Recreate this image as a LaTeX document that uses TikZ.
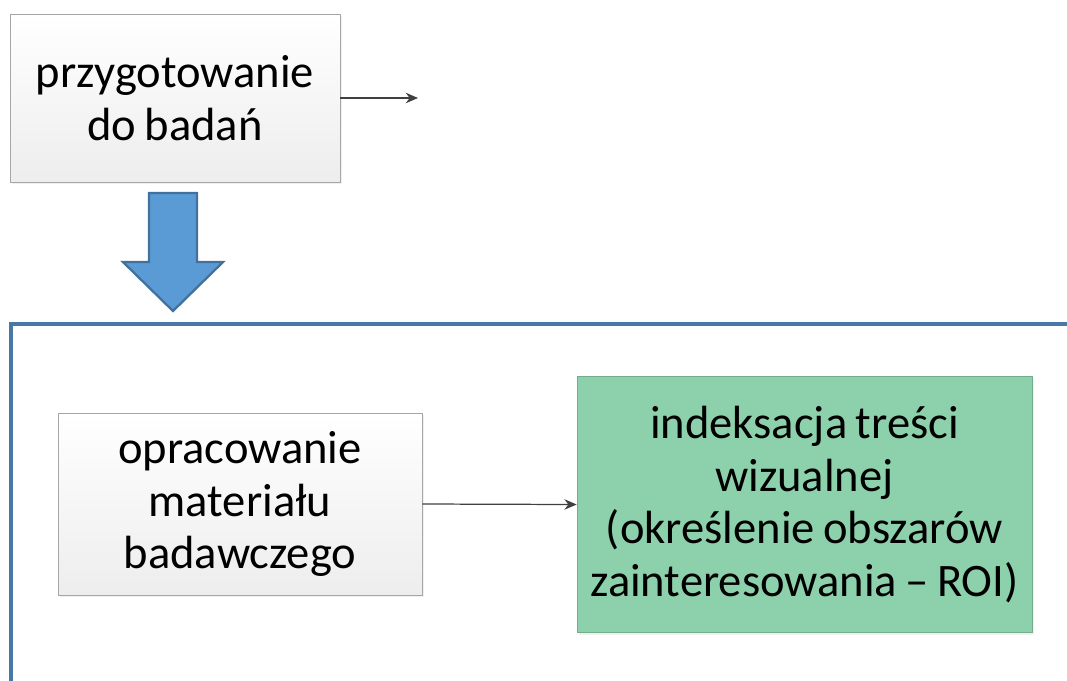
\documentclass[tikz,border=0pt]{standalone}
\usepackage{fontspec}
\setmainfont[WordSpace=0.8]{Carlito}
\usetikzlibrary{arrows.meta,shadows}
\definecolor{boxline}{HTML}{A6A6A6}
\definecolor{arrowline}{HTML}{404040}
\definecolor{bluefill}{HTML}{5B9BD5}
\definecolor{blueline}{HTML}{41719C}
\definecolor{frameline}{HTML}{4A78A6}
\definecolor{greenfill}{HTML}{8DD1AC}
\definecolor{greenline}{HTML}{72AE8E}
\tikzset{
  grey box/.style={draw=boxline,top color=white,bottom color=black!7,
    drop shadow={opacity=0.12,shadow xshift=1.2pt,shadow yshift=-1.2pt},
    align=center,inner sep=0pt,font=\fontsize{26.5}{30}\selectfont},
  green box/.style={draw=greenline,fill=greenfill,
    drop shadow={opacity=0.12,shadow xshift=1.2pt,shadow yshift=-1.2pt},
    align=center,inner sep=0pt,font=\fontsize{26.5}{30}\selectfont},
  thin arrow/.style={draw=arrowline,line width=0.7pt,-{Stealth[length=7pt,width=6pt]}}
}
\begin{document}
\begin{tikzpicture}[x=0.02cm,y=-0.02cm]
  \useasboundingbox (0,0) rectangle (1067,680);
  \path (175,98) node[grey box,minimum width=330*0.02cm,minimum height=168*0.02cm] (prep) {przygotowanie\\do badań};
  \coordinate (prepend) at (418,98);
  \draw[thin arrow] (prep.east) -- (prepend);
  % duza strzalka w dol
  \draw[fill=bluefill,draw=blueline,line width=1.3pt,line join=miter]
    (149,193) -- (197,193) -- (197,262) -- (223,262) -- (173,311)
    -- (123,262) -- (149,262) -- cycle;
  % ramka
  \draw[frameline,line width=2.2pt] (1070,324) -- (11,324) -- (11,684);
  \path (240,504) node[grey box,minimum width=364*0.02cm,minimum height=182*0.02cm] (mat) {opracowanie\\materiału\\badawczego};
  \path (804.5,504.5) node[green box,minimum width=455*0.02cm,minimum height=256*0.02cm] (roi) {indeksacja treści\\wizualnej\\(określenie obszarów\\zainteresowania – ROI)};
  \draw[thin arrow] (mat.east) -- (roi.west);
\end{tikzpicture}
\end{document}
